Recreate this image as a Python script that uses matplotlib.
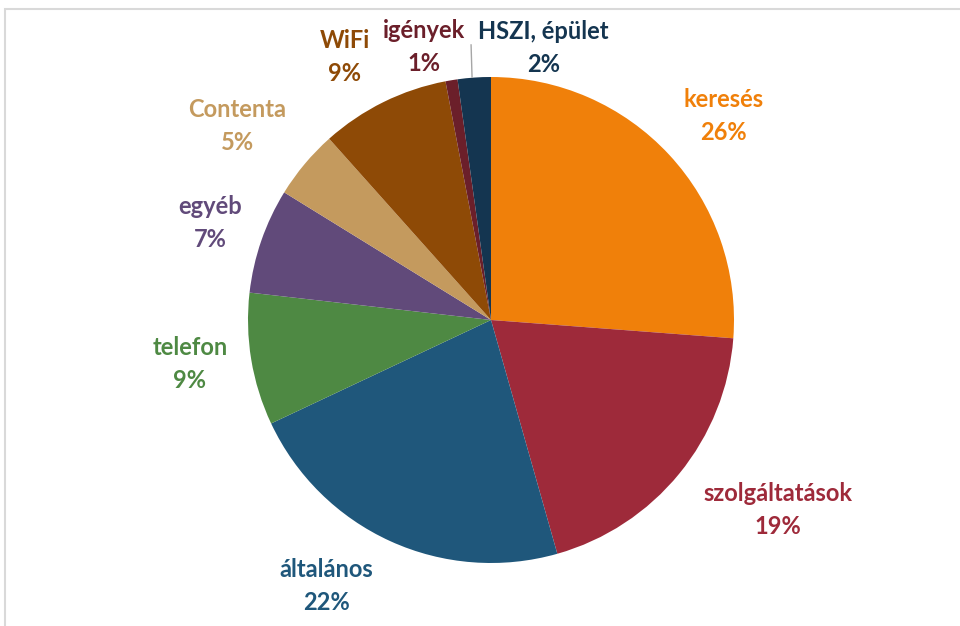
import matplotlib.pyplot as plt
from matplotlib.patches import Rectangle

# Data (share of requests)
categories = ['keresés', 'szolgáltatások', 'általános', 'telefon', 'egyéb',
              'Contenta', 'WiFi', 'igények', 'HSZI, épület']
shares = [26.2, 19.4, 22.4, 8.8, 7.0, 4.6, 8.6, 0.8, 2.2]
colors = ['#F0800A', '#9E2A3A', '#1F577B', '#4E8943', '#614A7A',
          '#C49A5E', '#8E4A06', '#6B1F2A', '#143550']

# label anchor positions (pie radius = 1)
label_pos = [(0.955, 0.840), (1.181, -0.782), (-0.679, -1.095), (-1.239, -0.181),
             (-1.156, 0.399), (-1.045, 0.798), (-0.601, 1.082), (-0.275, 1.123),
             (0.215, 1.119)]

plt.rcParams['font.family'] = ['Lato', 'DejaVu Sans']

fig = plt.figure(figsize=(9.6, 6.26), dpi=100)
fig.patches.append(Rectangle((5 / 960, -0.1), 1.2, 1.1 - 8.5 / 626,
                             transform=fig.transFigure, fill=False,
                             edgecolor='#D9D9D9', linewidth=1.5))

ax = fig.add_axes([248 / 960, 63 / 626, 486 / 960, 486 / 626])
ax.pie(shares, colors=colors, startangle=90, counterclock=False, radius=1,
       wedgeprops=dict(linewidth=0))
ax.set_xlim(-1, 1)
ax.set_ylim(-1, 1)
ax.set_aspect('equal')
ax.axis('off')

total = sum(shares)
for name, val, col, (x, y) in zip(categories, shares, colors, label_pos):
    ax.text(x, y, f'{name}\n{round(val / total * 100):.0f}%', color=col,
            fontsize=17, fontweight='bold', ha='center', va='center',
            linespacing=1.55, clip_on=False)

# leader line for the small HSZI slice
ax.plot([-0.078, -0.082], [1.0, 1.132], color='#A6A6A6', lw=1, clip_on=False)

fig.savefig('out.png', dpi=100)
